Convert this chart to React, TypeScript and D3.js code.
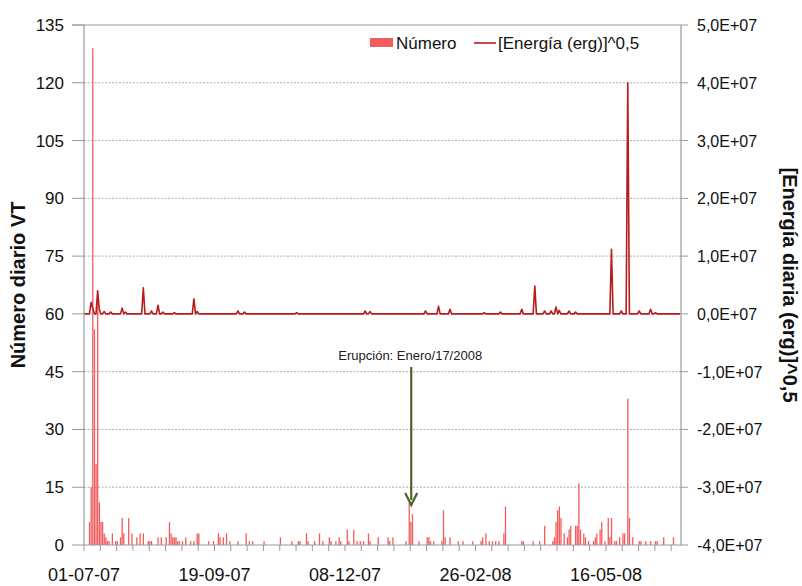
import React, { useEffect, useRef } from 'react';
import * as d3 from 'd3';

// daily VT count, sparse: [day offset from 01-07-07, count]
const countDays: [number, number][] = [
  [3, 6], [4, 15], [5, 129], [6, 56], [7, 21], [8, 66], [9, 11], [10, 6], [11, 6], [12, 3], [13, 2],
  [14, 1], [15, 1], [17, 3], [19, 1], [20, 1], [22, 2], [23, 7], [24, 3], [27, 7], [29, 3], [32, 2],
  [34, 3], [36, 3], [39, 1], [40, 1], [41, 1], [45, 2], [47, 2], [50, 2], [52, 6], [53, 3], [54, 2],
  [55, 2], [56, 2], [57, 1], [58, 1], [60, 1], [62, 2], [65, 1], [67, 1], [69, 3], [70, 3], [76, 1],
  [79, 1], [82, 3], [83, 2], [85, 2], [87, 3], [89, 1], [94, 1], [99, 3], [101, 1], [103, 1], [110, 1],
  [120, 2], [127, 1], [131, 1], [132, 1], [136, 3], [137, 1], [141, 1], [144, 3], [146, 1], [150, 2],
  [151, 1], [154, 1], [156, 2], [157, 1], [161, 4], [162, 1], [165, 4], [167, 1], [169, 1], [171, 1],
  [174, 3], [175, 1], [180, 2], [186, 2], [187, 1], [189, 2], [197, 1], [199, 11], [200, 6], [201, 8],
  [205, 1], [210, 2], [211, 2], [212, 1], [214, 1], [219, 1], [220, 9], [221, 2], [224, 2], [229, 1],
  [232, 1], [238, 1], [243, 1], [244, 2], [246, 3], [248, 1], [250, 1], [252, 1], [254, 1], [257, 3],
  [258, 10], [268, 1], [269, 1], [275, 1], [279, 1], [282, 5], [287, 1], [288, 2], [289, 6], [290, 9],
  [291, 10], [292, 7], [294, 3], [296, 2], [297, 4], [298, 5], [301, 5], [302, 5], [303, 16], [304, 4],
  [306, 3], [307, 2], [309, 1], [312, 1], [313, 2], [314, 3], [316, 4], [317, 6], [319, 1], [321, 7],
  [322, 2], [323, 7], [325, 1], [326, 1], [328, 2], [330, 3], [331, 3], [333, 38], [334, 7], [336, 2],
  [340, 1], [341, 1], [344, 1], [347, 1], [350, 1], [351, 1], [355, 2], [361, 2],
];

// daily sqrt energy (erg^0.5), sparse: [day, value]
const energyDays: [number, number][] = [
  [4, 2.0e6], [5, 1.0e6], [8, 4.0e6], [9, 0.8e6], [12, 0.4e6], [16, 0.3e6], [23, 1.0e6], [25, 0.3e6],
  [36, 4.5e6], [41, 0.5e6], [45, 1.5e6], [48, 0.3e6], [55, 0.2e6], [67, 2.6e6], [69, 0.4e6],
  [94, 0.5e6], [98, 0.3e6], [130, 0.2e6], [172, 0.5e6], [175, 0.4e6], [209, 0.5e6], [217, 1.3e6],
  [224, 0.8e6], [245, 0.2e6], [255, 0.3e6], [268, 0.8e6], [276, 4.8e6], [282, 0.5e6], [286, 0.5e6],
  [289, 1.2e6], [291, 0.6e6], [297, 0.5e6], [301, 0.3e6], [323, 1.12e7], [329, 0.5e6], [333, 4.0e7],
  [340, 0.5e6], [347, 0.8e6], [350, 0.2e6],
];

const leftTicks = [0, 15, 30, 45, 60, 75, 90, 105, 120, 135];
const rightTicks = [-4e7, -3e7, -2e7, -1e7, 0, 1e7, 2e7, 3e7, 4e7, 5e7];
const start = new Date(2007, 6, 1);
const nDays = 366;

export default function App() {
  const svgRef = useRef<SVGSVGElement>(null);

  useEffect(() => {
    const svg = d3.select(svgRef.current);
    svg.selectAll('*').remove();
    const font = 'Liberation Sans, Arial, sans-serif';
    const L = 84, R = 681, T = 25, B = 545;

    const day = (i: number) => d3.timeDay.offset(start, i);
    const x = d3.scaleTime().domain([start, day(nDays)]).range([L, R]);
    const yL = d3.scaleLinear().domain([0, 135]).range([B, T]);
    const yR = d3.scaleLinear().domain([-4e7, 5e7]).range([B, T]);

    // grid
    svg.append('g').selectAll('line').data(leftTicks.slice(1, -1)).join('line')
      .attr('x1', L).attr('x2', R).attr('y1', d => yL(d)).attr('y2', d => yL(d))
      .attr('stroke', '#999').attr('stroke-dasharray', '2,1.5').attr('stroke-width', 0.8);

    // frame
    svg.append('line').attr('x1', L - 12).attr('x2', R).attr('y1', T).attr('y2', T).attr('stroke', '#999').attr('stroke-width', 1.2);
    svg.append('line').attr('x1', L).attr('x2', L).attr('y1', T).attr('y2', B).attr('stroke', '#999').attr('stroke-width', 1.2);
    svg.append('line').attr('x1', R).attr('x2', R).attr('y1', T).attr('y2', B).attr('stroke', '#999').attr('stroke-width', 1.2);

    // bars
    const counts = new Array(nDays).fill(0);
    countDays.forEach(([d, v]) => { counts[d] = v; });
    svg.append('g').selectAll('rect').data(counts.map((v, i) => ({ i, v })).filter(d => d.v > 0)).join('rect')
      .attr('x', d => x(day(d.i)))
      .attr('width', 1.3)
      .attr('y', d => yL(d.v))
      .attr('height', d => B - yL(d.v))
      .attr('fill', '#f25c5c');

    // energy line
    const energy = new Array(nDays).fill(0);
    energyDays.forEach(([d, v]) => { energy[d] = v; });
    const line = d3.line<number>().x((_, i) => x(day(i)) + 0.6).y(v => yR(v));
    svg.append('path').attr('d', line(energy)!).attr('fill', 'none')
      .attr('stroke', '#b81c1c').attr('stroke-width', 1.6).attr('stroke-linejoin', 'round');

    // x axis
    svg.append('line').attr('x1', L).attr('x2', R).attr('y1', B).attr('y2', B).attr('stroke', '#999').attr('stroke-width', 1.2);
    svg.append('g').selectAll('line').data(d3.range(0, nDays + 1, 10)).join('line')
      .attr('x1', d => x(day(d))).attr('x2', d => x(day(d))).attr('y1', B).attr('y2', B + 6)
      .attr('stroke', '#999');
    const fmt = d3.timeFormat('%d-%m-%y');
    svg.append('g').selectAll('text').data(d3.range(0, nDays, 80)).join('text')
      .attr('x', d => x(day(d))).attr('y', 581).attr('text-anchor', 'middle')
      .attr('font-family', font).attr('font-size', 18).attr('fill', '#111')
      .text(d => fmt(day(d)));

    // left axis
    svg.append('g').selectAll('line').data(leftTicks).join('line')
      .attr('x1', L - 12).attr('x2', L).attr('y1', d => yL(d)).attr('y2', d => yL(d)).attr('stroke', '#999');
    svg.append('g').selectAll('text').data(leftTicks).join('text')
      .attr('x', 64).attr('y', d => yL(d) + 6).attr('text-anchor', 'end')
      .attr('font-family', font).attr('font-size', 17).attr('fill', '#111')
      .text(d => d);
    svg.append('text').attr('transform', 'translate(25,285) rotate(-90)').attr('text-anchor', 'middle')
      .attr('font-family', font).attr('font-size', 20).attr('font-weight', 'bold').attr('fill', '#111')
      .text('Número diario VT');

    // right axis
    svg.append('g').selectAll('line').data(rightTicks).join('line')
      .attr('x1', R).attr('x2', R + 7).attr('y1', d => yR(d)).attr('y2', d => yR(d)).attr('stroke', '#999');
    svg.append('g').selectAll('text').data(rightTicks).join('text')
      .attr('x', 697).attr('y', d => yR(d) + 6)
      .attr('font-family', font).attr('font-size', 16).attr('fill', '#111')
      .text(d => (d / 1e7).toFixed(1).replace('.', ',') + 'E+07');
    svg.append('text').attr('transform', 'translate(783,285) rotate(90)').attr('text-anchor', 'middle')
      .attr('font-family', font).attr('font-size', 20).attr('font-weight', 'bold').attr('fill', '#111')
      .text('[Energía diaria (erg)]^0,5');

    // legend
    svg.append('rect').attr('x', 370).attr('y', 38).attr('width', 23).attr('height', 9).attr('fill', '#f25c5c');
    svg.append('text').attr('x', 396).attr('y', 49).attr('font-family', font).attr('font-size', 17).attr('fill', '#111').text('Número');
    svg.append('line').attr('x1', 474).attr('x2', 496).attr('y1', 43).attr('y2', 43).attr('stroke', '#b81c1c').attr('stroke-width', 1.6);
    svg.append('text').attr('x', 498).attr('y', 49).attr('font-family', font).attr('font-size', 17).attr('fill', '#111').text('[Energía (erg)]^0,5');

    // eruption annotation
    const ex = x(day(200)) + 1;
    svg.append('text').attr('x', ex - 1).attr('y', 360).attr('text-anchor', 'middle')
      .attr('font-family', font).attr('font-size', 13).attr('fill', '#222').text('Erupción: Enero/17/2008');
    svg.append('line').attr('x1', ex).attr('x2', ex).attr('y1', 367).attr('y2', 500)
      .attr('stroke', '#4f6228').attr('stroke-width', 2.2);
    svg.append('path').attr('d', `M${ex - 6},${493} L${ex},${505} L${ex + 6},${493}`)
      .attr('fill', 'none').attr('stroke', '#4f6228').attr('stroke-width', 2.2);
  }, []);

  return (
    <svg ref={svgRef} width={802} height={586}
      style={{ position: 'absolute', left: 0, top: 0, background: '#fff' }} />
  );
}
